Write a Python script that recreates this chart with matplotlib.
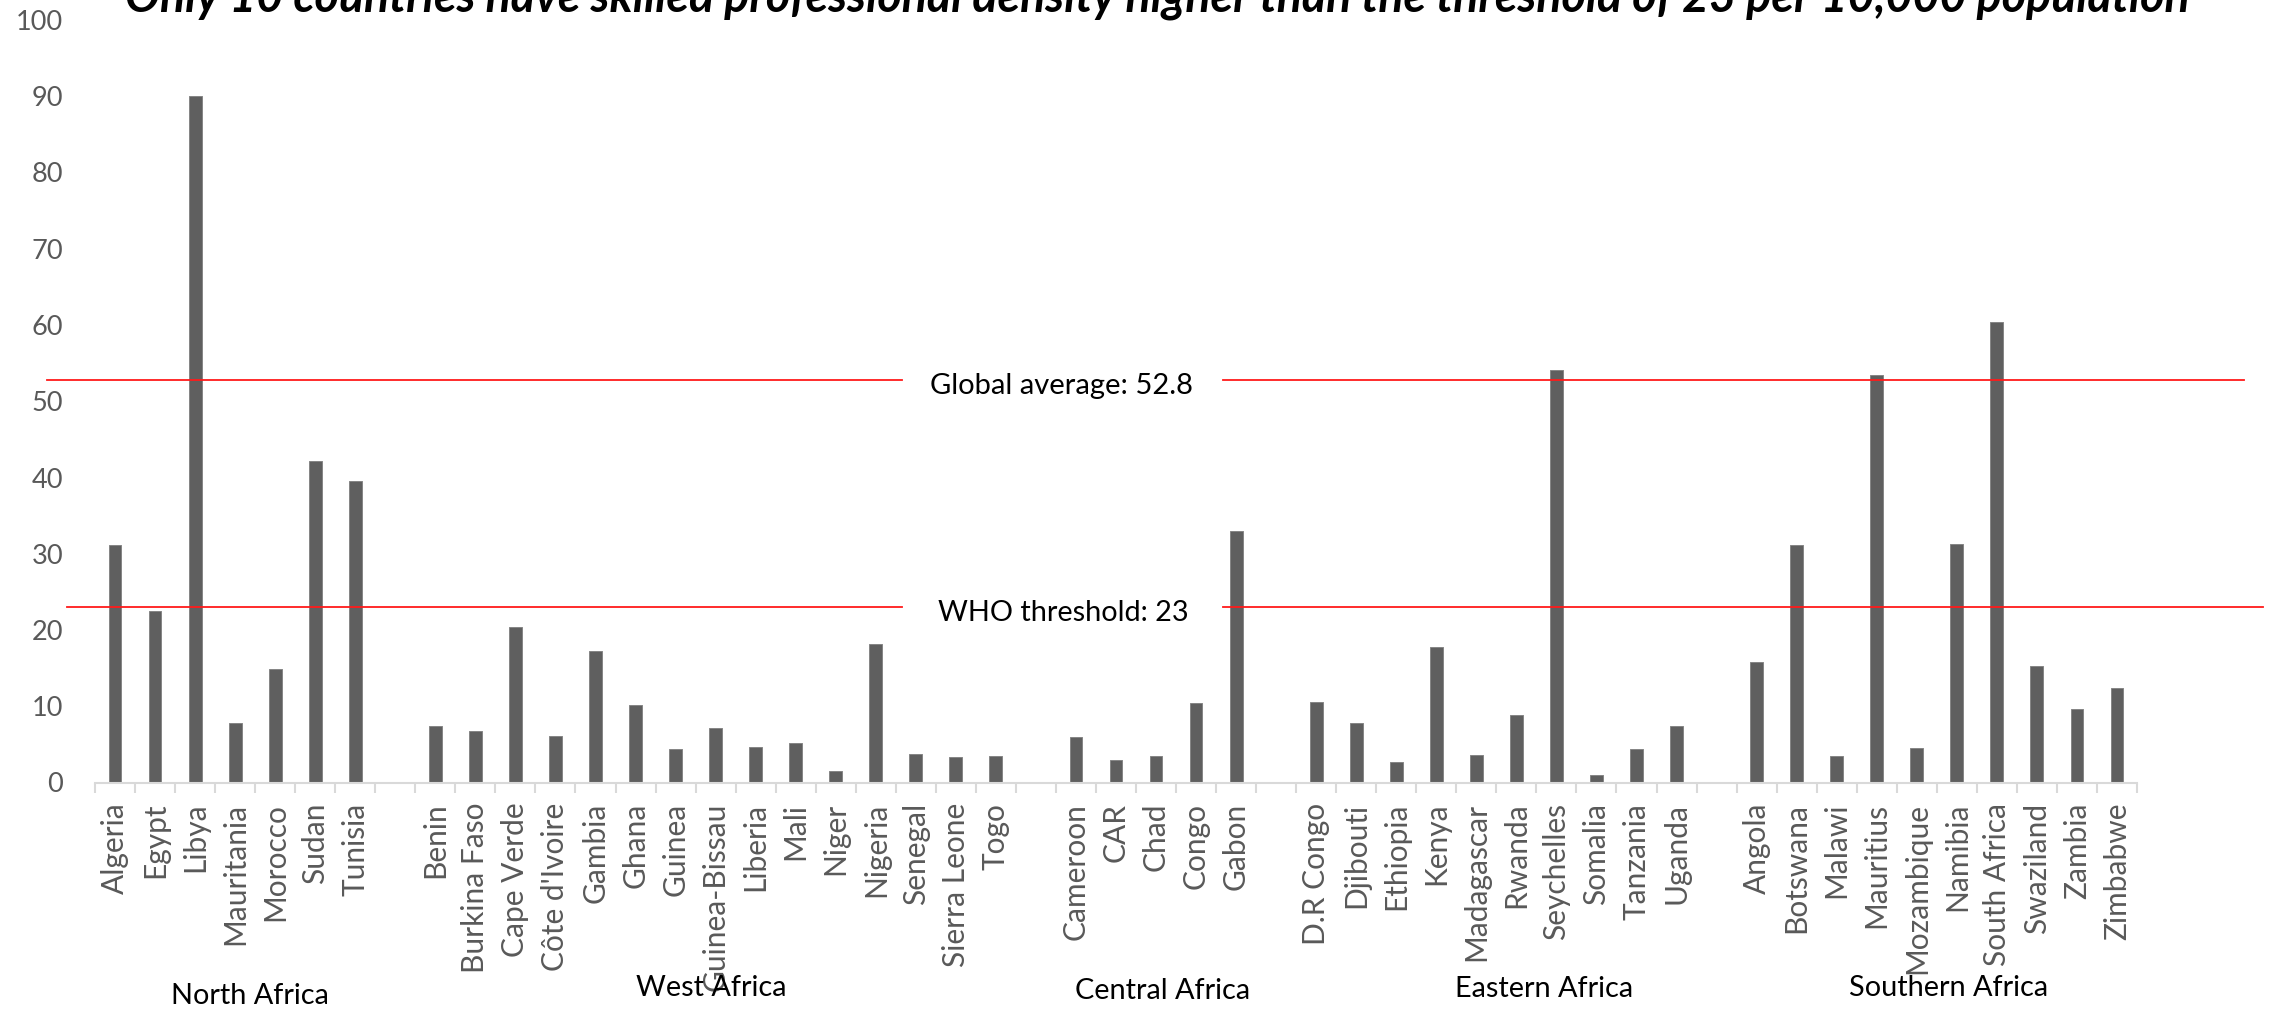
import matplotlib
matplotlib.use("Agg")
import matplotlib.pyplot as plt
import matplotlib.transforms as mtransforms
import numpy as np

# Skilled health professionals per 10,000 population, by region
regions = ["North Africa", "West Africa", "Central Africa", "Eastern Africa", "Southern Africa"]

north_countries = ["Algeria", "Egypt", "Libya", "Mauritania", "Morocco", "Sudan", "Tunisia"]
north_values = [31.1, 22.5, 90.0, 7.8, 14.9, 42.2, 39.6]

west_countries = ["Benin", "Burkina Faso", "Cape Verde", "Côte d'Ivoire", "Gambia", "Ghana",
                  "Guinea", "Guinea-Bissau", "Liberia", "Mali", "Niger", "Nigeria", "Senegal",
                  "Sierra Leone", "Togo"]
west_values = [7.4, 6.7, 20.4, 6.1, 17.2, 10.1, 4.4, 7.2, 4.7, 5.2, 1.5, 18.2, 3.7, 3.3, 3.5]

central_countries = ["Cameroon", "CAR", "Chad", "Congo", "Gabon"]
central_values = [6.0, 2.9, 3.5, 10.4, 33.0]

eastern_countries = ["D.R Congo", "Djibouti", "Ethiopia", "Kenya", "Madagascar", "Rwanda",
                     "Seychelles", "Somalia", "Tanzania", "Uganda"]
eastern_values = [10.5, 7.8, 2.7, 17.8, 3.6, 8.9, 54.1, 1.0, 4.4, 7.4]

southern_countries = ["Angola", "Botswana", "Malawi", "Mauritius", "Mozambique", "Namibia",
                      "South Africa", "Swaziland", "Zambia", "Zimbabwe"]
southern_values = [15.8, 31.1, 3.5, 53.5, 4.5, 31.3, 60.4, 15.3, 9.7, 12.4]

global_average = 52.8
who_threshold = 23

y_ticks = [0, 10, 20, 30, 40, 50, 60, 70, 80, 90, 100]

title_text = ("Only 10 countries have skilled professional density higher than "
              "the threshold of 23 per 10,000 population")

# Build category slots: one empty slot between consecutive regions
groups = [
    (north_countries, north_values),
    (west_countries, west_values),
    (central_countries, central_values),
    (eastern_countries, eastern_values),
    (southern_countries, southern_values),
]
labels, values, positions = [], [], []
slot = 0
for gi, (names, vals) in enumerate(groups):
    for n, v in zip(names, vals):
        labels.append(n)
        values.append(v)
        positions.append(slot)
        slot += 1
    if gi < len(groups) - 1:
        slot += 1
n_slots = slot

W, H = 2282, 1010
fig = plt.figure(figsize=(W / 100, H / 100), dpi=100)
ax = fig.add_axes([95 / W, 1 - 782.5 / H, (2137 - 95) / W, (782.5 - 20) / H])

ax.bar(positions, values, width=0.32, color="#5f5f5f", edgecolor="#858585", linewidth=0.7, zorder=2)

ax.set_xlim(-0.5, n_slots - 0.5)
ax.set_ylim(0, 100)

# Axes styling
for side in ["top", "right", "left"]:
    ax.spines[side].set_visible(False)
ax.spines["bottom"].set_color("#d9d9d9")
ax.spines["bottom"].set_linewidth(1.5)

ax.set_yticks(y_ticks)
ax.tick_params(axis="y", length=0, pad=23, labelsize=19.5, labelcolor="#595959")
for t in ax.get_yticklabels():
    t.set_fontfamily("Lato")

ax.set_xticks(positions)
ax.set_xticklabels(labels, rotation=90, fontsize=21.5, color="#595959", family="Lato")
ax.tick_params(axis="x", which="major", length=0, pad=14.5)
ax.set_xticks(np.arange(-0.5, n_slots, 1.0), minor=True)
ax.tick_params(axis="x", which="minor", length=7.5, width=1.5, color="#d9d9d9")

# Reference lines, broken where their labels sit
blend = mtransforms.blended_transform_factory(fig.transFigure, ax.transData)
line_kw = dict(color="#ff1a1a", linewidth=1.3, transform=blend, clip_on=False, zorder=3)
ax.plot([47 / W, 902 / W], [global_average] * 2, **line_kw)
ax.plot([1223 / W, 2244 / W], [global_average] * 2, **line_kw)
ax.plot([67 / W, 902 / W], [who_threshold] * 2, **line_kw)
ax.plot([1223 / W, 2263 / W], [who_threshold] * 2, **line_kw)

lab_off = mtransforms.offset_copy(blend, fig=fig, x=0, y=-6, units="dots")
ax.text(1062 / W, global_average, f"Global average: {global_average}", transform=lab_off,
        ha="center", va="center", fontsize=21, family="Lato", color="black")
ax.text(1063 / W, who_threshold, f"WHO threshold: {who_threshold}", transform=lab_off,
        ha="center", va="center", fontsize=20.8, family="Lato", color="black")

# Region captions below the country names
region_x = [3.36, 14.9, 26.15, 35.7, 45.8]
region_y = [996, 988, 991, 989, 988]
for name, xr, yr in zip(regions, region_x, region_y):
    fig.text((95 + (xr + 0.5) * 40.04) / W, 1 - yr / H, name, ha="center", va="center",
             fontsize=20.8, family="Lato", color="black")

# Title, partly above the top edge
fig.text(1157 / W, 1 - 12 / H, title_text, ha="center", va="baseline",
         fontsize=33.5, family="Lato", fontweight="bold", fontstyle="italic", color="black")

fig.savefig("out.png", dpi=100, facecolor="white")
